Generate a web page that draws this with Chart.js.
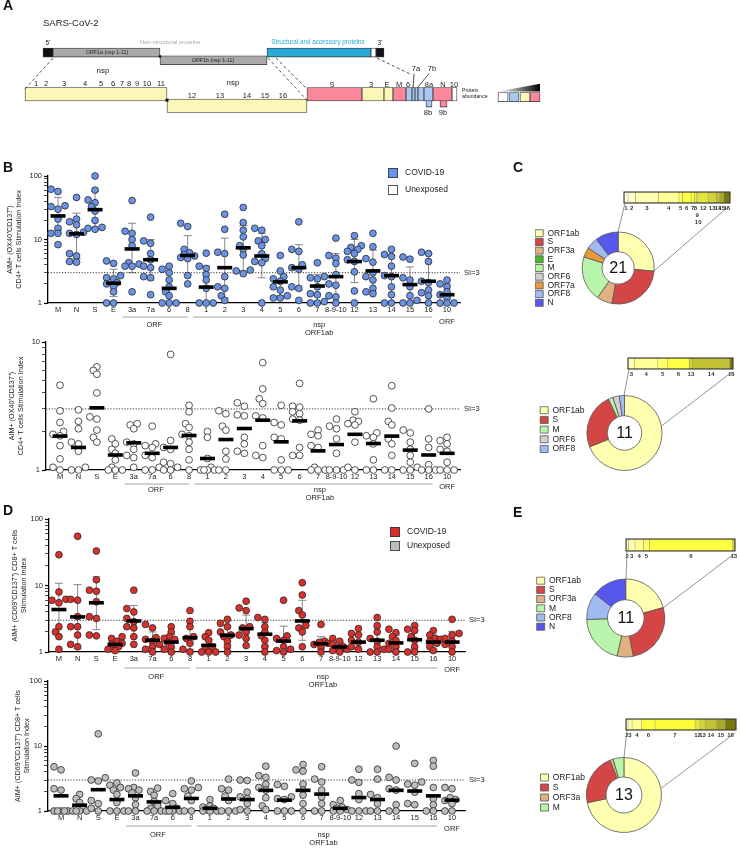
<!DOCTYPE html>
<html>
<head>
<meta charset="utf-8">
<title>SARS-CoV-2 specific T cell responses</title>
<script src="https://cdn.jsdelivr.net/npm/chart.js@4.4.1/dist/chart.umd.min.js"></script>
<style>
  html, body { margin: 0; padding: 0; background: #fff; }
  #fig { position: relative; width: 740px; height: 851px; overflow: hidden; font-family: 'Liberation Sans', Arial, sans-serif; }
  #fig canvas { position: absolute; }
  .tag { position: absolute; font-size: 14px; font-weight: bold; line-height: 14px; color: #111; }
</style>
</head>
<body>
<div id="fig">
  <canvas id="genomeMap" width="740" height="130" style="left:0;top:0"></canvas>
  <canvas id="cd4Covid" width="500" height="190" style="left:0;top:150px"></canvas>
  <canvas id="cd4Unexposed" width="500" height="175" style="left:0;top:330px"></canvas>
  <canvas id="cd8Covid" width="500" height="190" style="left:0;top:500px"></canvas>
  <canvas id="cd8Unexposed" width="500" height="181" style="left:0;top:670px"></canvas>
  <canvas id="donutC1"></canvas>
  <canvas id="donutC2"></canvas>
  <canvas id="donutE1"></canvas>
  <canvas id="donutE2"></canvas>
  <canvas id="barC1"></canvas>
  <canvas id="barC2"></canvas>
  <canvas id="barE1"></canvas>
  <canvas id="barE2"></canvas>
  <div class="tag" style="left:3px;top:-2px">A</div>
  <div class="tag" style="left:3px;top:160px">B</div>
  <div class="tag" style="left:513px;top:160px">C</div>
  <div class="tag" style="left:3px;top:503px">D</div>
  <div class="tag" style="left:513px;top:505px">E</div>
</div>
<script>
// ---------- data ----------

// x categories of the stimulation index plots
const CATEGORIES = ['M', 'N', 'S', 'E', '3a', '7a', '6', '8', '1', '2', '3', '4', '5', '6', '7', '8-9-10', '12', '13', '14', '15', '16', '10'];
const GROUP_SPANS = [
  { from: 3.5, to: 7.0, at: 5.2, text: ['ORF'] },
  { from: 7.3, to: 20.2, at: 14.1, text: ['nsp', 'ORF1ab'] }
];

// CD4+ AIM+ (OX40+CD137+) stimulation index, COVID-19 donors
const CD4_COVID = [
  [62, 57, 34, 33, 30, 21, 15, 12.5, 12.5, 8.3],
  [46, 21, 19, 17, 13, 12.5, 12, 6, 5.5, 4.5, 4.4],
  [100, 60, 42, 38, 33, 28, 20, 15.5, 15, 14.5],
  [4.6, 4.2, 2.7, 2.5, 2.4, 2.1, 2.0, 1.8, 1.5, 1.0, 1.0],
  [41, 13.5, 12.5, 10, 8, 4.3, 4.1, 3.8, 3.8, 1.5],
  [22.5, 9.5, 8.7, 6, 4.8, 3.8, 3.6, 2.6, 2.5, 1.35],
  [3.8, 3.4, 3.0, 2.3, 1.8, 1.5, 1.3, 1.0, 1.0, 1.0],
  [18, 16, 7, 6.2, 5.8, 5.5, 5.2, 5, 2.7, 2.0],
  [6.1, 3.8, 3.5, 2.8, 2.3, 1.7, 1.0, 1.0, 1.0],
  [25, 14.5, 6.3, 6.0, 2.6, 1.8, 1.7, 1.3, 1.1],
  [32, 18.5, 14, 11, 8, 7, 5.7, 3.3, 3.2, 2.9],
  [15, 14, 10, 9.5, 8, 6, 5, 4.5, 4.3, 1.0],
  [5.6, 3.2, 2.6, 2.4, 2.2, 1.8, 1.6, 1.3, 1.2, 1.2],
  [19, 7, 6.5, 4, 3.6, 3.4, 1.8, 1.7, 1.1],
  [4.3, 2.6, 2.5, 2.4, 1.8, 1.4, 1.35, 1.05, 1.0, 1.0],
  [10.5, 5.6, 5.1, 4.2, 2.8, 2, 1.9, 1.3, 1.25, 1.0],
  [11.5, 8, 7.5, 7, 6.5, 6, 4.8, 4.5, 3.1, 1.55, 1.0],
  [12.5, 7.7, 5, 4.4, 3, 2.6, 2.3, 1.7, 1.5, 1.4],
  [7, 5.8, 5.4, 3.8, 2.7, 2.6, 1.8, 1.35, 1.0, 1.0],
  [5.3, 4.9, 2.5, 2.3, 1.8, 1.3, 1.1, 1.0, 1.0],
  [6.3, 6, 4.5, 2.2, 2.1, 1.6, 1.45, 1.3, 1.0],
  [2.3, 2.0, 1.8, 1.5, 1.35, 1.2, 1.0, 1.0, 1.0]
];
const CD4_COVID_MEAN = [23.5, 12.3, 29.5, 2.05, 7.1, 4.8, 1.7, 5.6, 1.78, 3.6, 7.4, 5.5, 2.15, 3.6, 1.85, 2.6, 4.5, 3.2, 2.7, 1.95, 2.2, 1.35];
const CD4_COVID_SD_LO = [14, 5, 15, 1.27, 3, 2.3, 0.8, 2.8, 0.8, 1.2, 3.2, 2.5, 1.3, 1.6, 1.0, 1.0, 2.1, 1.5, 1.0, 1.0, 1.0, 1.0];
const CD4_COVID_SD_HI = [46, 26, 57, 3.4, 18, 10, 3.8, 11.5, 3.8, 10.5, 16.5, 12.5, 3.2, 8.3, 2.8, 6, 10, 6.8, 5.6, 3.7, 6, 2.0];

// CD4+ AIM+ stimulation index, unexposed donors
const CD4_UNEXPOSED = [
  [4.6, 2.9, 2.35, 2.0, 1.9, 1.85, 1.55, 1.22, 1.05, 1.0],
  [2.95, 2.4, 2.1, 1.65, 1.6, 1.4, 1.05, 1.0, 1.0],
  [6.4, 6.0, 5.6, 4.0, 2.6, 2.5, 2.05, 1.8, 1.65],
  [1.75, 1.6, 1.45, 1.35, 1.2, 1.05, 1.0, 1.0, 1.0],
  [2.3, 2.25, 2.1, 1.65, 1.6, 1.45, 1.3, 1.25, 1.05],
  [2.2, 1.6, 1.55, 1.5, 1.3, 1.25, 1.05, 1.0, 1.0],
  [8.0, 1.7, 1.5, 1.45, 1.15, 1.12, 1.05, 1.0, 1.0],
  [3.2, 2.85, 2.3, 2.15, 1.9, 1.85, 1.65, 1.45, 1.2, 1.0],
  [2.0, 1.8, 1.23, 1.05, 1.0, 1.0, 1.0, 1.0],
  [2.9, 2.75, 2.2, 2.05, 1.4, 1.22, 1.0, 1.0],
  [3.35, 3.15, 2.7, 2.65, 1.8, 1.6, 1.4, 1.35],
  [6.9, 4.3, 3.6, 3.3, 2.65, 2.55, 1.55, 1.3, 1.25],
  [3.2, 2.35, 2.25, 1.8, 1.75, 1.2, 1.0, 1.0, 1.0],
  [4.75, 3.15, 3.1, 2.85, 2.75, 2.5, 2.45, 1.5, 1.3, 1.3],
  [2.05, 1.9, 1.85, 1.55, 1.5, 1.05, 1.0, 1.0, 1.0],
  [2.5, 2.2, 2.1, 1.75, 1.35, 1.0, 1.0, 1.0],
  [2.85, 2.45, 2.4, 2.3, 2.25, 1.65, 1.05, 1.0],
  [3.6, 1.95, 1.85, 1.8, 1.6, 1.2, 1.0, 1.0],
  [4.55, 3.05, 2.4, 2.25, 1.75, 1.6, 1.3, 1.0, 1.0],
  [2.05, 1.95, 1.65, 1.45, 1.3, 1.15, 1.05, 1.0, 1.0],
  [3.0, 1.75, 1.5, 1.1, 1.0, 1.0, 1.0],
  [1.8, 1.7, 1.6, 1.45, 1.4, 1.15, 1.0, 1.0, 1.0]
];
const CD4_UNEXPOSED_MEAN = [1.84, 1.5, 3.06, 1.31, 1.63, 1.35, 1.5, 1.86, 1.23, 1.73, 2.11, 2.45, 1.66, 2.42, 1.41, 1.58, 1.9, 1.61, 1.84, 1.43, 1.31, 1.35];

// CD8+ AIM+ (CD69+CD137+) stimulation index, COVID-19 donors
const CD8_COVID = [
  [29, 8.0, 6.2, 6.0, 5.5, 2.4, 2.0, 1.7, 1.1],
  [55, 6.2, 6.0, 3.4, 2.4, 2.4, 1.8, 1.3, 1.2],
  [33, 12.2, 8.5, 8.2, 5.7, 3.4, 3.2, 1.8, 1.75],
  [1.7, 1.6, 1.45, 1.35, 1.3, 1.2, 1.1, 1.05],
  [8.5, 4.5, 4.0, 3.2, 2.85, 2.4, 2.3, 1.7, 1.3],
  [2.6, 2.3, 1.65, 1.55, 1.45, 1.3, 1.2, 1.1, 1.0],
  [2.4, 2.0, 1.7, 1.6, 1.55, 1.4, 1.2, 1.1, 1.0],
  [4.2, 2.9, 2.4, 1.7, 1.6, 1.35, 1.1, 1.0],
  [1.95, 1.7, 1.5, 1.2, 1.1, 1.0, 1.0, 1.0],
  [3.1, 2.7, 2.4, 2.0, 1.8, 1.7, 1.45, 1.2, 1.0],
  [5.8, 4.6, 4.2, 2.4, 2.3, 2.0, 1.8, 1.6, 1.25],
  [3.3, 3.1, 2.4, 2.0, 1.75, 1.5, 1.2, 1.0],
  [6.0, 1.75, 1.6, 1.5, 1.2, 1.1, 1.05, 1.0],
  [11, 7.2, 4.2, 3.6, 2.5, 2.3, 2.0, 1.2],
  [2.6, 1.45, 1.4, 1.35, 1.3, 1.2, 1.0],
  [1.6, 1.45, 1.3, 1.2, 1.15, 1.1, 1.05, 1.0],
  [2.25, 1.9, 1.8, 1.5, 1.4, 1.2, 1.1],
  [3.3, 2.5, 2.0, 1.6, 1.45, 1.2, 1.1, 1.0, 1.0],
  [2.2, 1.95, 1.7, 1.5, 1.35, 1.2, 1.1, 1.0],
  [2.5, 2.2, 2.1, 1.7, 1.5, 1.2, 1.0, 1.0],
  [2.1, 1.8, 1.6, 1.55, 1.45, 1.35, 1.2, 1.05],
  [3.1, 1.9, 1.8, 1.6, 1.45, 1.3, 1.2, 1.0]
];
const CD8_COVID_MEAN = [4.35, 3.37, 5.5, 1.3, 2.93, 1.5, 1.41, 1.64, 1.26, 1.78, 2.25, 1.85, 1.46, 2.93, 1.33, 1.19, 1.41, 1.5, 1.37, 1.53, 1.41, 1.41];
const CD8_COVID_SD_LO = [1.72, 1.12, 2.17, 1.15, 1.72, 1.2, 1.15, 1.1, 1.05, 1.3, 1.6, 1.25, 1.0, 1.5, 1.1, 1.05, 1.1, 1.0, 1.05, 1.1, 1.1, 1.0];
const CD8_COVID_SD_HI = [10.8, 10.3, 13.5, 1.55, 5.0, 2.0, 1.85, 2.5, 1.55, 2.45, 3.6, 2.75, 2.45, 6.0, 1.7, 1.38, 1.85, 2.3, 1.8, 2.1, 1.8, 2.05];

// CD8+ AIM+ stimulation index, unexposed donors
const CD8_UNEXPOSED = [
  [4.8, 4.3, 2.2, 2.1, 1.0, 1.0, 1.0, 1.0, 1.0],
  [1.8, 1.55, 1.35, 1.1, 1.0, 1.0, 1.0, 1.0],
  [15.4, 3.25, 3.0, 2.9, 1.45, 1.3, 1.1, 1.0],
  [2.7, 2.5, 2.3, 2.1, 1.8, 1.35, 1.0, 1.0, 1.0],
  [3.85, 2.3, 2.2, 2.1, 1.9, 1.6, 1.25, 1.0, 1.0],
  [2.25, 2.0, 1.75, 1.4, 1.2, 1.1, 1.0, 1.0, 1.0],
  [1.85, 1.45, 1.3, 1.1, 1.0, 1.0, 1.0, 1.0],
  [2.9, 2.3, 2.2, 2.1, 1.7, 1.45, 1.0, 1.0],
  [1.5, 1.2, 1.15, 1.1, 1.05, 1.0, 1.0, 1.0],
  [3.1, 2.2, 2.1, 1.7, 1.45, 1.0, 1.0, 1.0],
  [3.0, 2.95, 1.95, 1.65, 1.55, 1.3, 1.05, 1.0],
  [4.9, 3.5, 3.3, 2.6, 2.3, 2.1, 1.6, 1.2, 1.05],
  [2.55, 2.4, 1.65, 1.55, 1.5, 1.0, 1.0, 1.0],
  [5.2, 4.3, 4.1, 2.6, 2.1, 1.75, 1.3, 1.0],
  [4.8, 3.1, 2.8, 2.1, 1.65, 1.3, 1.0, 1.0],
  [1.45, 1.25, 1.15, 1.1, 1.05, 1.0, 1.0],
  [4.4, 3.0, 2.75, 1.85, 1.5, 1.0, 1.0, 1.0],
  [4.4, 3.1, 1.8, 1.6, 1.3, 1.0, 1.0],
  [10, 3.3, 3.0, 2.2, 2.1, 1.25, 1.0, 1.0],
  [5.4, 2.8, 2.6, 2.5, 1.95, 1.3, 1.25],
  [6.0, 4.9, 2.3, 1.55, 1.25, 1.0, 1.0],
  [2.3, 2.2, 1.6, 1.5, 1.45, 1.3, 1.0, 1.0]
];
const CD8_UNEXPOSED_MEAN = [1.71, 1.23, 2.13, 1.5, 1.71, 1.38, 1.14, 1.56, 1.1, 1.53, 1.5, 2.08, 1.47, 2.08, 1.82, 1.1, 1.61, 1.5, 2.08, 2.03, 1.71, 1.47];

// donut panels: share of responses (%) per antigen and ORF1ab split by nsp
const C1_ANTIGENS = ['ORF1ab', 'S', 'ORF3a', 'E', 'M', 'ORF6', 'ORF7a', 'ORF8', 'N'];
const C1_SHARE = [26.4, 26.4, 6.9, 0, 20.3, 0, 4.4, 5.3, 10.3];
const C1_TOTAL = '21';
const C1_NSP = ['1', '2', '3', '4', '5', '6', '7', '8', '9', '10', '12', '13', '14', '15', '16'];
const C1_NSP_SHARE = [12, 22, 69, 62, 10, 26, 10, 7, 3, 3, 28, 25, 10, 12, 19];

const C2_ANTIGENS = ['ORF1ab', 'S', 'M', 'ORF6', 'ORF8'];
const C2_SHARE = [69, 24, 2, 2.8, 2.2];
const C2_TOTAL = '11';
const C2_NSP = ['3', '4', '5', '6', '13', '14', '16'];
const C2_NSP_SHARE = [20, 70, 30, 65, 10, 112, 10];

const E1_ANTIGENS = ['ORF1ab', 'S', 'ORF3a', 'M', 'ORF8', 'N'];
const E1_SHARE = [20.7, 26.2, 6.7, 20.8, 11.2, 14.4];
const E1_TOTAL = '11';
const E1_NSP = ['2', '3', '4', '5', '6', '13'];
const E1_NSP_SHARE = [7, 20, 25, 18, 250, 7];

const E2_ANTIGENS = ['ORF1ab', 'S', 'ORF3a', 'M'];
const E2_SHARE = [71.7, 22.2, 1.4, 4.7];
const E2_TOTAL = '13';
const E2_NSP = ['2', '3', '4', '6', '7', '12', '13', '14', '15', '16'];
const E2_NSP_SHARE = [6, 12, 29, 40, 120, 15, 15, 35, 25, 33];

// panel A: genome map in schematic units (not to scale)
const MAP_SEGMENTS = [
  // [name, start, end, row, kind]
  ["5'", 43, 53, 'genome', 'cap'],
  ['ORF1a', 53, 160, 'genome', 'orf1'],
  ['structural', 267, 371, 'genome', 'struct'],
  ['ORF10', 371, 376, 'genome', 'white'],
  ["3'", 376, 384, 'genome', 'cap'],
  ['ORF1b', 160, 267, 'genome2', 'orf1'],
  ['nsp1-11', 25, 167, 'zoom', 'yellow'],
  ['S', 307, 362, 'zoom', 'pink'],
  ['ORF3', 362, 384, 'zoom', 'yellow'],
  ['E', 384, 393, 'zoom', 'yellow'],
  ['M', 393, 406, 'zoom', 'pink'],
  ['ORF6', 406, 412, 'zoom', 'blue'],
  ['ORF7a', 412, 415, 'zoom', 'blue'],
  ['ORF7b', 415, 418, 'zoom', 'blue'],
  ['ORF8', 418, 424, 'zoom', 'blue'],
  ['ORF8a', 424, 433, 'zoom', 'blue'],
  ['N', 433, 452, 'zoom', 'pink'],
  ['ORF10', 452, 457, 'zoom', 'white'],
  ['nsp12-16', 167, 307, 'zoom2', 'yellow'],
  ['ORF8b', 426, 432, 'inner', 'blue'],
  ['ORF9b', 440, 447, 'inner', 'pink'],
  ['low', 498, 508, 'scale', 'white'],
  ['', 509, 519, 'scale', 'blue'],
  ['', 520, 530, 'scale', 'yellow'],
  ['high', 530, 540, 'scale', 'pink']
];
const NSP_LABELS_1 = ['1', '2', '3', '4', '5', '6', '7', '8', '9', '10', '11'];
const NSP_AT_1 = [36, 46, 64, 85, 101, 113, 122, 129, 137, 147, 161];
const NSP_LABELS_2 = ['12', '13', '14', '15', '16'];
const NSP_AT_2 = [192, 220, 247, 265, 283];
const ORF_LABELS = ['S', '3', 'E', 'M', '6', '8a', 'N', '10'];
const ORF_AT = [332, 371, 387, 399, 408, 429, 443, 454];

// ---------- styling ----------
const FONT = "'Liberation Sans', Arial, Helvetica, sans-serif";
Chart.defaults.font.family = FONT;
Chart.defaults.color = '#222';
Chart.defaults.animation = false;
Chart.defaults.responsive = false;
Chart.defaults.events = [];
Chart.defaults.plugins.legend.display = false;
Chart.defaults.plugins.tooltip.enabled = false;

const ANTIGEN_COLORS = {
  ORF1ab: '#ffffb0', S: '#d44545', ORF3a: '#dfb280', E: '#47b820', M: '#b8f5aa',
  ORF6: '#d0d0d0', ORF7a: '#e89a3a', ORF8: '#a0bbf2', N: '#5757ee'
};
const NSP_SHADES = {
  '1': '#ffffe6', '2': '#ffffcc', '3': '#ffffb4', '4': '#ffff96', '5': '#ffff6c', '6': '#ffff44',
  '7': '#fbfb38', '8': '#f4f436', '9': '#eeee36', '10': '#e8e836', '12': '#e4e43e', '13': '#d2d23a',
  '14': '#c2c234', '15': '#a8a828', '16': '#787810'
};
const MAP_COLORS = { cap: '#111', orf1: '#a9a9a9', struct: '#2aa8d8', white: '#ffffff', yellow: '#fbf7b8', pink: '#f9889a', blue: '#a8c8f2' };
const MAP_ROWS = { genome: [50.5, 9], genome2: [59.5, 9], zoom: [99.2, 13.4], zoom2: [112.6, 13.4], inner: [106.5, 13], scale: [102.5, 9] };

// ---------- panel A ----------
const mapDecor = {
  id: 'mapDecor',
  afterDatasetsDraw(chart) {
    const { ctx, scales: { x, y } } = chart;
    const X = v => x.getPixelForValue(v), Y = v => y.getPixelForValue(v);
    ctx.save();
    ctx.strokeStyle = '#222';
    ctx.lineWidth = 0.8;
    ctx.setLineDash([3, 2.5]);
    [[53, 57, 25, 93], [268, 57, 307, 106], [276, 57, 307, 93], [377, 57, 411, 76]].forEach(([a, b, c, d]) => {
      ctx.beginPath(); ctx.moveTo(X(a), Y(b)); ctx.lineTo(X(c), Y(d)); ctx.stroke();
    });
    ctx.setLineDash([]);
    [[414, 75, 413, 92], [429, 75, 417, 92]].forEach(([a, b, c, d]) => {
      ctx.beginPath(); ctx.moveTo(X(a), Y(b)); ctx.lineTo(X(c), Y(d)); ctx.stroke();
    });
    // junction dots
    ctx.fillStyle = '#111';
    ctx.fillRect(X(160) - 1.2, Y(55) - 1.2, 2.4, 2.4);
    ctx.fillRect(X(167) - 1.5, Y(106) - 1.5, 3, 3);
    // abundance wedge
    const g = ctx.createLinearGradient(X(498), 0, X(540), 0);
    g.addColorStop(0, '#ffffff'); g.addColorStop(1, '#000000');
    ctx.fillStyle = g;
    ctx.beginPath(); ctx.moveTo(X(498), Y(96)); ctx.lineTo(X(540), Y(96)); ctx.lineTo(X(540), Y(87)); ctx.closePath(); ctx.fill();

    const text = (t, px, py, size, color = '#222', align = 'center') => {
      ctx.font = `${size}px ${FONT}`; ctx.fillStyle = color; ctx.textAlign = align; ctx.textBaseline = 'middle';
      ctx.fillText(t, X(px), Y(py));
    };
    text('SARS-CoV-2', 43, 17, 9.5, '#222', 'left');
    text("5'", 48, 39, 6.5);
    text("3'", 380, 39, 6.5);
    text('Non-structural proteins', 170, 38, 6, '#a8a8a8');
    text('Structural and accessory proteins', 318, 38, 6.3, '#2aa8d8');
    text('ORF1a (nsp 1-11)', 107, 50.5, 5.3);
    text('ORF1b (nsp 1-11)', 213, 59.5, 5.3);
    text('nsp', 103, 72, 8);
    text('nsp', 233, 86, 8);
    NSP_LABELS_1.forEach((t, i) => text(t, NSP_AT_1[i], 87, 7.5));
    NSP_LABELS_2.forEach((t, i) => text(t, NSP_AT_2[i], 101, 7.5));
    ORF_LABELS.forEach((t, i) => text(t, ORF_AT[i], 88, 7.5));
    text('7a', 416, 70, 7.5);
    text('7b', 432, 70, 7.5);
    text('8b', 428, 121, 7.5);
    text('9b', 443, 121, 7.5);
    text('Protein', 462, 95, 5.2, '#222', 'left');
    text('abundance', 462, 102, 5.2, '#222', 'left');
    ctx.restore();
  }
};

function genomeMap() {
  const rows = Object.keys(MAP_ROWS);
  const datasets = rows.map(r => {
    const segs = MAP_SEGMENTS.filter(s => s[3] === r);
    return {
      data: segs.map(s => ({ x: [s[1], s[2]], y: MAP_ROWS[r][0] })),
      backgroundColor: segs.map(s => MAP_COLORS[s[4]]),
      borderColor: '#333', borderWidth: 0.8, borderSkipped: false,
      barThickness: MAP_ROWS[r][1], stack: 'map'
    };
  });
  new Chart(document.getElementById('genomeMap'), {
    type: 'bar',
    data: { datasets },
    options: {
      indexAxis: 'y',
      layout: { padding: 0 },
      scales: {
        x: { type: 'linear', min: 0, max: 740, display: false, stacked: false },
        y: { type: 'linear', min: 0, max: 130, reverse: true, display: false }
      }
    },
    plugins: [mapDecor]
  });
}

// ---------- stimulation index panels ----------
const isDecade = v => Math.abs(Math.log10(v) - Math.round(Math.log10(v))) < 1e-9;

// spread overlapping dots of one column sideways (pixel units)
function swarmOffsets(vals, decadePx, catPx) {
  const order = vals.map((v, i) => i).sort((a, b) => vals[a] - vals[b]);
  const placed = [], offs = [];
  const cand = [0, -3.5, 3.5, -7, 7, -1.75, 1.75, -5.25, 5.25];
  order.forEach(i => {
    const py = Math.log10(vals[i]) * decadePx;
    let best = 0, bestGap = -1;
    for (const px of cand) {
      const gap = Math.min(Infinity, ...placed.map(p => Math.hypot(p[0] - px, p[1] - py)));
      if (gap >= 5) { best = px; break; }
      if (gap > bestGap) { bestGap = gap; best = px; }
    }
    placed.push([best, py]);
    offs[i] = best / catPx;
  });
  return offs;
}

const errorBars = {
  id: 'errorBars',
  beforeDatasetsDraw(chart, args, o) {
    if (!o.lo) return;
    const { ctx, scales: { x, y } } = chart;
    ctx.save();
    ctx.strokeStyle = '#6a6a6a';
    ctx.lineWidth = 0.8;
    o.lo.forEach((lo, i) => {
      const px = x.getPixelForValue(i);
      const yl = y.getPixelForValue(Math.max(lo, 1)), yh = y.getPixelForValue(o.hi[i]);
      ctx.beginPath();
      ctx.moveTo(px, yl); ctx.lineTo(px, yh);
      ctx.moveTo(px - 4, yh); ctx.lineTo(px + 4, yh);
      if (lo > 1.02) { ctx.moveTo(px - 4, yl); ctx.lineTo(px + 4, yl); }
      ctx.stroke();
    });
    ctx.restore();
  }
};

const stimDecor = {
  id: 'stimDecor',
  afterDraw(chart, args, o) {
    const { ctx, chartArea: ca, scales: { x, y } } = chart;
    ctx.save();
    ctx.font = `7.5px ${FONT}`;
    ctx.fillStyle = '#222';
    ctx.textBaseline = 'middle';
    ctx.textAlign = 'left';
    ctx.fillText('SI=3', ca.right + 4, y.getPixelForValue(3));
    ctx.strokeStyle = '#8a8a8a';
    ctx.lineWidth = 0.8;
    ctx.textAlign = 'center';
    const ly = ca.bottom + o.lineDy;
    GROUP_SPANS.forEach(g => {
      ctx.beginPath(); ctx.moveTo(x.getPixelForValue(g.from), ly); ctx.lineTo(x.getPixelForValue(g.to), ly); ctx.stroke();
      g.text.forEach((t, k) => ctx.fillText(t, x.getPixelForValue(g.at), ly + o.textDy + k * 8));
    });
    ctx.fillText('ORF', x.getPixelForValue(21), ca.bottom + o.orfDy);
    if (o.legend) {
      const L = o.legend;
      L.items.forEach(([label, fill], k) => {
        const top = L.y + k * L.gap;
        ctx.fillStyle = fill;
        ctx.fillRect(L.x, top, 10, 10);
        ctx.strokeStyle = '#333';
        ctx.strokeRect(L.x + 0.4, top + 0.4, 9.2, 9.2);
        ctx.fillStyle = '#222';
        ctx.font = `8.5px ${FONT}`;
        ctx.textAlign = 'left';
        ctx.fillText(label, L.x + 17, top + 5);
      });
    }
    ctx.restore();
  }
};

function stimPanel(id, o) {
  const canvas = document.getElementById(id);
  const W = canvas.width, H = canvas.height, a = o.area;
  const catPx = (a.right - a.left) / (o.xMax - o.xMin);
  const decadePx = (a.bottom - a.top) / Math.log10(o.yMax);
  const pts = [];
  o.values.forEach((vals, ci) => {
    const offs = swarmOffsets(vals, decadePx, catPx);
    vals.forEach((v, j) => pts.push({ x: ci + offs[j], y: v }));
  });
  const yTicks = [];
  for (let d = 1; d < o.yMax; d *= 10) for (let k = 1; k < 10; k++) yTicks.push(k * d);
  yTicks.push(o.yMax);
  const titleFont = 7.2;
  return new Chart(canvas, {
    type: 'scatter',
    data: {
      datasets: [
        { type: 'line', data: [{ x: o.xMin, y: 3 }, { x: o.xMax, y: 3 }], borderColor: '#222', borderWidth: 0.9,
          borderDash: [1.2, 1.6], pointRadius: 0, clip: false, order: 3 },
        { data: pts, pointRadius: 3.4, backgroundColor: o.fill, borderColor: '#2a2a2a', borderWidth: 0.8, clip: false, order: 2 },
        { data: o.means.map((m, i) => ({ x: i, y: m })), pointStyle: 'line', pointRadius: 7.5, borderColor: '#000',
          borderWidth: 3.6, clip: false, order: 1 }
      ]
    },
    options: {
      layout: { padding: { left: 0, top: a.top, right: W - a.right, bottom: 0 } },
      scales: {
        x: {
          type: 'linear', min: o.xMin, max: o.xMax,
          afterBuildTicks: s => { s.ticks = CATEGORIES.map((c, i) => ({ value: i })); },
          afterFit: s => { s.height = H - a.bottom; },
          ticks: { autoSkip: false, maxRotation: 0, minRotation: 0, padding: 2.5, font: { size: 7.5 }, color: '#222',
            callback: v => CATEGORIES[v] ?? '' },
          grid: { display: false, drawTicks: false },
          border: { display: true, color: '#000', width: 1.3 }
        },
        y: {
          type: 'logarithmic', min: 1, max: o.yMax,
          afterBuildTicks: s => { s.ticks = yTicks.map(v => ({ value: v, major: isDecade(v) })); },
          afterFit: s => { s.width = a.left; },
          ticks: { autoSkip: false, padding: 2, font: { size: 7.5 }, color: '#222', callback: v => isDecade(v) ? String(v) : '' },
          grid: { drawOnChartArea: false, drawTicks: true, tickLength: 4, tickColor: '#000',
            tickWidth: c => (c.tick && isDecade(c.tick.value)) ? 1.2 : 0.7 },
          border: { display: true, color: '#000', width: 1.3 },
          title: { display: true, text: o.title, font: { size: titleFont, lineHeight: 1.2 }, color: '#222',
            padding: { top: o.titleX - titleFont * 0.6, bottom: 0 } }
        }
      },
      plugins: {
        errorBars: { lo: o.lo, hi: o.hi },
        stimDecor: o.decor
      }
    },
    plugins: [errorBars, stimDecor]
  });
}

// ---------- donut panels ----------
const centerLabel = {
  id: 'centerLabel',
  afterDraw(chart, args, o) {
    const arc = chart.getDatasetMeta(0).data[0];
    const { ctx } = chart;
    ctx.save();
    ctx.font = `16px ${FONT}`;
    ctx.fillStyle = '#111';
    ctx.textAlign = 'center';
    ctx.textBaseline = 'middle';
    ctx.fillText(o.text, arc.x, arc.y + 1);
    ctx.restore();
  }
};

function donutPanel(id, labels, shares, total, o) {
  const canvas = document.getElementById(id);
  const W = 210, H = 130;
  const pad = o.pitch - 8.5;
  canvas.width = W; canvas.height = H;
  const left = o.legendX - pad, top = o.cy - H / 2;
  canvas.style.left = left + 'px';
  canvas.style.top = top + 'px';
  const chart = new Chart(canvas, {
    type: 'doughnut',
    data: {
      labels,
      datasets: [{ data: shares, backgroundColor: labels.map(l => ANTIGEN_COLORS[l]), borderColor: '#555', borderWidth: 0.8 }]
    },
    options: {
      radius: o.R, cutout: o.cut,
      layout: { padding: { left: 0, right: 100, top: 0, bottom: 0 } },
      plugins: {
        legend: {
          display: true, position: 'left', align: 'start',
          title: { display: true, text: '', font: { size: 1 }, padding: { top: o.firstRow - 4.25 - top - 1.2, bottom: 0 } },
          labels: { boxWidth: 8, boxHeight: 7, padding: pad, font: { size: 8.5 }, color: '#222' }
        },
        centerLabel: { text: total }
      }
    },
    plugins: [centerLabel]
  });
  const ca = chart.chartArea;
  chart.options.layout.padding.right = Math.max(0, ca.left + W - 2 * (o.cx - left));
  chart.update();
  const arc = chart.getDatasetMeta(0).data[0];
  canvas.style.left = (o.cx - arc.x) + 'px';
  canvas.style.top = (o.cy - arc.y) + 'px';
  return chart;
}

const barDecor = {
  id: 'barDecor',
  afterDatasetsDraw(chart, args, o) {
    const { ctx, chartArea: ca, scales: { x } } = chart;
    ctx.save();
    ctx.strokeStyle = '#222';
    ctx.lineWidth = 1;
    ctx.strokeRect(ca.left, ca.top, ca.right - ca.left, ca.bottom - ca.top);
    // nsp labels at segment centres
    ctx.font = `bold 6px ${FONT}`;
    ctx.fillStyle = '#333';
    ctx.textAlign = 'center';
    ctx.textBaseline = 'middle';
    let acc = 0;
    o.labels.forEach((l, i) => {
      const mid = acc + o.shares[i] / 2;
      acc += o.shares[i];
      const row = (o.rows && o.rows[l]) || 0;
      ctx.fillText(l, x.getPixelForValue(mid), ca.bottom + 5 + row * 7);
    });
    // connectors to the ORF1ab slice of the donut
    const donut = Chart.getChart(o.donut);
    const arc = donut.getDatasetMeta(0).data[0];
    const dx = parseFloat(donut.canvas.style.left) - parseFloat(chart.canvas.style.left);
    const dy = parseFloat(donut.canvas.style.top) - parseFloat(chart.canvas.style.top);
    const cx = arc.x + dx, cy = arc.y + dy, R = arc.outerRadius;
    const endDeg = (arc.endAngle - arc.startAngle) * 180 / Math.PI;
    const ang = (endDeg <= 100 ? endDeg : 80) * Math.PI / 180 - Math.PI / 2;
    ctx.strokeStyle = '#666';
    ctx.lineWidth = 0.7;
    ctx.beginPath();
    ctx.moveTo(ca.left + 1, ca.bottom); ctx.lineTo(cx, cy - R);
    ctx.moveTo(ca.right - 1, ca.bottom + 3); ctx.lineTo(cx + R * Math.cos(ang), cy + R * Math.sin(ang));
    ctx.stroke();
    ctx.restore();
  }
};

function nspBar(id, donutId, labels, shares, o) {
  const canvas = document.getElementById(id);
  const left = 505, top = o.bar.top - 4;
  const W = 740 - left, H = Math.round(o.bottom - top);
  canvas.width = W; canvas.height = H;
  canvas.style.left = left + 'px';
  canvas.style.top = top + 'px';
  const total = shares.reduce((s, v) => s + v, 0);
  new Chart(canvas, {
    type: 'bar',
    data: {
      labels: [''],
      datasets: labels.map((l, i) => ({
        data: [shares[i]], backgroundColor: NSP_SHADES[l], borderColor: 'rgba(110,110,20,0.55)', borderWidth: 0.6,
        borderSkipped: false, barPercentage: 1, categoryPercentage: 1
      }))
    },
    options: {
      indexAxis: 'y',
      layout: { padding: { left: o.bar.left - left, right: 740 - o.bar.right, top: 4, bottom: H - 4 - (o.bar.bottom - o.bar.top) } },
      scales: {
        x: { stacked: true, min: 0, max: total, display: false },
        y: { stacked: true, display: false }
      },
      plugins: { barDecor: { labels, shares, rows: o.rows, donut: donutId } }
    },
    plugins: [barDecor]
  });
}

// ---------- build ----------
genomeMap();

const CD4_TITLE = ['AIM+ (OX40\u207ACD137\u207A)', 'CD4+ T cells Stimulation Index'];
const CD8_TITLE = ['AIM+ (CD69\u207ACD137\u207A) CD8+ T cells', 'Stimulation Index'];

stimPanel('cd4Covid', {
  values: CD4_COVID, means: CD4_COVID_MEAN, lo: CD4_COVID_SD_LO, hi: CD4_COVID_SD_HI,
  yMax: 100, fill: '#6a93e6', area: { left: 48, right: 460, top: 26, bottom: 153 }, xMin: -0.54, xMax: 21.7,
  title: CD4_TITLE, titleX: 10,
  decor: { lineDy: 14, textDy: 8, orfDy: 19, legend: { x: 388, y: 18, gap: 17, items: [['COVID-19', '#6a93e6'], ['Unexposed', '#ffffff']] } }
});
stimPanel('cd4Unexposed', {
  values: CD4_UNEXPOSED, means: CD4_UNEXPOSED_MEAN,
  yMax: 10, fill: '#ffffff', area: { left: 46, right: 460, top: 12, bottom: 140 }, xMin: -0.76, xMax: 21.7,
  title: CD4_TITLE, titleX: 12,
  decor: { lineDy: 14, textDy: 6, orfDy: 17 }
});
stimPanel('cd8Covid', {
  values: CD8_COVID, means: CD8_COVID_MEAN, lo: CD8_COVID_SD_LO, hi: CD8_COVID_SD_HI,
  yMax: 100, fill: '#d9302c', area: { left: 49, right: 465, top: 19, bottom: 152 }, xMin: -0.53, xMax: 21.69,
  title: CD8_TITLE, titleX: 15,
  decor: { lineDy: 16, textDy: 9, orfDy: 18, legend: { x: 390, y: 27, gap: 14, items: [['COVID-19', '#d9302c'], ['Unexposed', '#bdbdbd']] } }
});
stimPanel('cd8Unexposed', {
  values: CD8_UNEXPOSED, means: CD8_UNEXPOSED_MEAN,
  yMax: 100, fill: '#bdbdbd', area: { left: 48, right: 465, top: 9, bottom: 141 }, xMin: -0.7, xMax: 21.7,
  title: CD8_TITLE, titleX: 18,
  decor: { lineDy: 15, textDy: 9, orfDy: 18 }
});

donutPanel('donutC1', C1_ANTIGENS, C1_SHARE, C1_TOTAL, { cx: 618, cy: 268, R: 36, cut: '45%', legendX: 535, firstRow: 233, pitch: 8.7 });
donutPanel('donutC2', C2_ANTIGENS, C2_SHARE, C2_TOTAL, { cx: 624, cy: 433, R: 37.5, cut: '46%', legendX: 540, firstRow: 409, pitch: 9.7 });
donutPanel('donutE1', E1_ANTIGENS, E1_SHARE, E1_TOTAL, { cx: 626, cy: 618, R: 39, cut: '47%', legendX: 537, firstRow: 580, pitch: 9.2 });
donutPanel('donutE2', E2_ANTIGENS, E2_SHARE, E2_TOTAL, { cx: 624, cy: 795, R: 37.5, cut: '48%', legendX: 541, firstRow: 776, pitch: 10 });

nspBar('barC1', 'donutC1', C1_NSP, C1_NSP_SHARE, { bar: { left: 624, top: 192, right: 730, bottom: 203 }, bottom: 310, rows: { '9': 1, '10': 2 } });
nspBar('barC2', 'donutC2', C2_NSP, C2_NSP_SHARE, { bar: { left: 628, top: 358, right: 733, bottom: 369 }, bottom: 475 });
nspBar('barE1', 'donutE1', E1_NSP, E1_NSP_SHARE, { bar: { left: 626, top: 539, right: 735, bottom: 551 }, bottom: 662 });
nspBar('barE2', 'donutE2', E2_NSP, E2_NSP_SHARE, { bar: { left: 626, top: 719, right: 736, bottom: 730 }, bottom: 838 });
</script>
</body>
</html>
